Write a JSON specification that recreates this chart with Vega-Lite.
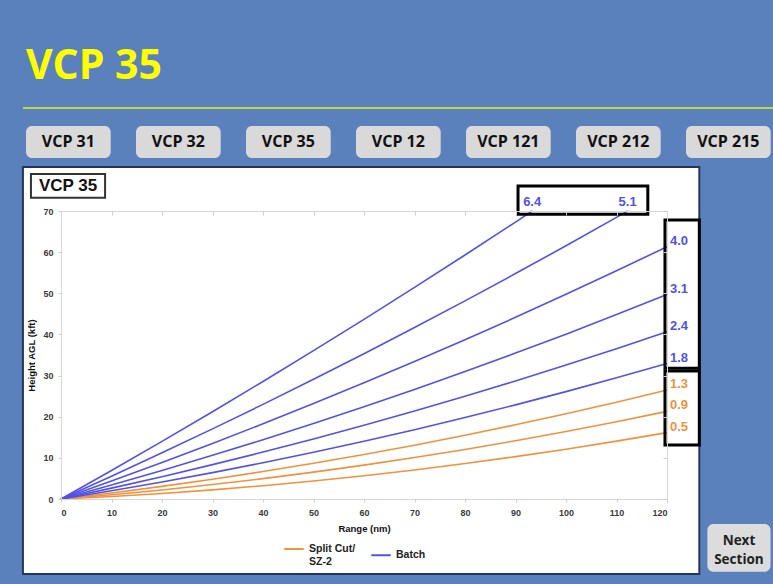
{
  "$schema": "https://vega.github.io/schema/vega-lite/v6.json",
  "background": "#5b81bc",
  "padding": {"left": 21, "top": 46, "right": 20, "bottom": 20},
  "title": {"text": "VCP 35", "anchor": "start", "font": "Open Sans", "fontSize": 41, "fontWeight": "bold", "color": "#ffff00", "baseline": "alphabetic", "offset": -13, "dx": 4},
  "datasets": {
    "lines": [
      {"angle": "0.5", "mode": "Split Cut/SZ-2", "range": 0, "height": 0},
      {"angle": "0.5", "mode": "Split Cut/SZ-2", "range": 10, "height": 0.61},
      {"angle": "0.5", "mode": "Split Cut/SZ-2", "range": 20, "height": 1.35},
      {"angle": "0.5", "mode": "Split Cut/SZ-2", "range": 30, "height": 2.22},
      {"angle": "0.5", "mode": "Split Cut/SZ-2", "range": 40, "height": 3.23},
      {"angle": "0.5", "mode": "Split Cut/SZ-2", "range": 50, "height": 4.37},
      {"angle": "0.5", "mode": "Split Cut/SZ-2", "range": 60, "height": 5.65},
      {"angle": "0.5", "mode": "Split Cut/SZ-2", "range": 70, "height": 7.06},
      {"angle": "0.5", "mode": "Split Cut/SZ-2", "range": 80, "height": 8.61},
      {"angle": "0.5", "mode": "Split Cut/SZ-2", "range": 90, "height": 10.29},
      {"angle": "0.5", "mode": "Split Cut/SZ-2", "range": 100, "height": 12.11},
      {"angle": "0.5", "mode": "Split Cut/SZ-2", "range": 110, "height": 14.06},
      {"angle": "0.5", "mode": "Split Cut/SZ-2", "range": 120, "height": 16.14},
      {"angle": "0.9", "mode": "Split Cut/SZ-2", "range": 0, "height": 0},
      {"angle": "0.9", "mode": "Split Cut/SZ-2", "range": 10, "height": 1.04},
      {"angle": "0.9", "mode": "Split Cut/SZ-2", "range": 20, "height": 2.2},
      {"angle": "0.9", "mode": "Split Cut/SZ-2", "range": 30, "height": 3.51},
      {"angle": "0.9", "mode": "Split Cut/SZ-2", "range": 40, "height": 4.95},
      {"angle": "0.9", "mode": "Split Cut/SZ-2", "range": 50, "height": 6.53},
      {"angle": "0.9", "mode": "Split Cut/SZ-2", "range": 60, "height": 8.23},
      {"angle": "0.9", "mode": "Split Cut/SZ-2", "range": 70, "height": 10.08},
      {"angle": "0.9", "mode": "Split Cut/SZ-2", "range": 80, "height": 12.05},
      {"angle": "0.9", "mode": "Split Cut/SZ-2", "range": 90, "height": 14.16},
      {"angle": "0.9", "mode": "Split Cut/SZ-2", "range": 100, "height": 16.41},
      {"angle": "0.9", "mode": "Split Cut/SZ-2", "range": 110, "height": 18.79},
      {"angle": "0.9", "mode": "Split Cut/SZ-2", "range": 120, "height": 21.3},
      {"angle": "1.3", "mode": "Split Cut/SZ-2", "range": 0, "height": 0},
      {"angle": "1.3", "mode": "Split Cut/SZ-2", "range": 10, "height": 1.46},
      {"angle": "1.3", "mode": "Split Cut/SZ-2", "range": 20, "height": 3.07},
      {"angle": "1.3", "mode": "Split Cut/SZ-2", "range": 30, "height": 4.8},
      {"angle": "1.3", "mode": "Split Cut/SZ-2", "range": 40, "height": 6.67},
      {"angle": "1.3", "mode": "Split Cut/SZ-2", "range": 50, "height": 8.68},
      {"angle": "1.3", "mode": "Split Cut/SZ-2", "range": 60, "height": 10.82},
      {"angle": "1.3", "mode": "Split Cut/SZ-2", "range": 70, "height": 13.08},
      {"angle": "1.3", "mode": "Split Cut/SZ-2", "range": 80, "height": 15.5},
      {"angle": "1.3", "mode": "Split Cut/SZ-2", "range": 90, "height": 18.04},
      {"angle": "1.3", "mode": "Split Cut/SZ-2", "range": 100, "height": 20.72},
      {"angle": "1.3", "mode": "Split Cut/SZ-2", "range": 110, "height": 23.53},
      {"angle": "1.3", "mode": "Split Cut/SZ-2", "range": 120, "height": 26.47},
      {"angle": "1.8", "mode": "Batch", "range": 0, "height": 0},
      {"angle": "1.8", "mode": "Batch", "range": 10, "height": 2.0},
      {"angle": "1.8", "mode": "Batch", "range": 20, "height": 4.14},
      {"angle": "1.8", "mode": "Batch", "range": 30, "height": 6.41},
      {"angle": "1.8", "mode": "Batch", "range": 40, "height": 8.82},
      {"angle": "1.8", "mode": "Batch", "range": 50, "height": 11.37},
      {"angle": "1.8", "mode": "Batch", "range": 60, "height": 14.04},
      {"angle": "1.8", "mode": "Batch", "range": 70, "height": 16.85},
      {"angle": "1.8", "mode": "Batch", "range": 80, "height": 19.8},
      {"angle": "1.8", "mode": "Batch", "range": 90, "height": 22.88},
      {"angle": "1.8", "mode": "Batch", "range": 100, "height": 26.1},
      {"angle": "1.8", "mode": "Batch", "range": 110, "height": 29.45},
      {"angle": "1.8", "mode": "Batch", "range": 120, "height": 32.93},
      {"angle": "2.4", "mode": "Batch", "range": 0, "height": 0},
      {"angle": "2.4", "mode": "Batch", "range": 10, "height": 2.65},
      {"angle": "2.4", "mode": "Batch", "range": 20, "height": 5.43},
      {"angle": "2.4", "mode": "Batch", "range": 30, "height": 8.35},
      {"angle": "2.4", "mode": "Batch", "range": 40, "height": 11.41},
      {"angle": "2.4", "mode": "Batch", "range": 50, "height": 14.6},
      {"angle": "2.4", "mode": "Batch", "range": 60, "height": 17.91},
      {"angle": "2.4", "mode": "Batch", "range": 70, "height": 21.38},
      {"angle": "2.4", "mode": "Batch", "range": 80, "height": 24.96},
      {"angle": "2.4", "mode": "Batch", "range": 90, "height": 28.68},
      {"angle": "2.4", "mode": "Batch", "range": 100, "height": 32.55},
      {"angle": "2.4", "mode": "Batch", "range": 110, "height": 36.54},
      {"angle": "2.4", "mode": "Batch", "range": 120, "height": 40.67},
      {"angle": "3.1", "mode": "Batch", "range": 0, "height": 0},
      {"angle": "3.1", "mode": "Batch", "range": 10, "height": 3.4},
      {"angle": "3.1", "mode": "Batch", "range": 20, "height": 6.94},
      {"angle": "3.1", "mode": "Batch", "range": 30, "height": 10.61},
      {"angle": "3.1", "mode": "Batch", "range": 40, "height": 14.41},
      {"angle": "3.1", "mode": "Batch", "range": 50, "height": 18.36},
      {"angle": "3.1", "mode": "Batch", "range": 60, "height": 22.43},
      {"angle": "3.1", "mode": "Batch", "range": 70, "height": 26.64},
      {"angle": "3.1", "mode": "Batch", "range": 80, "height": 30.99},
      {"angle": "3.1", "mode": "Batch", "range": 90, "height": 35.46},
      {"angle": "3.1", "mode": "Batch", "range": 100, "height": 40.07},
      {"angle": "3.1", "mode": "Batch", "range": 110, "height": 44.82},
      {"angle": "3.1", "mode": "Batch", "range": 120, "height": 49.7},
      {"angle": "4.0", "mode": "Batch", "range": 0, "height": 0},
      {"angle": "4.0", "mode": "Batch", "range": 10, "height": 4.36},
      {"angle": "4.0", "mode": "Batch", "range": 20, "height": 8.87},
      {"angle": "4.0", "mode": "Batch", "range": 30, "height": 13.51},
      {"angle": "4.0", "mode": "Batch", "range": 40, "height": 18.28},
      {"angle": "4.0", "mode": "Batch", "range": 50, "height": 23.19},
      {"angle": "4.0", "mode": "Batch", "range": 60, "height": 28.23},
      {"angle": "4.0", "mode": "Batch", "range": 70, "height": 33.4},
      {"angle": "4.0", "mode": "Batch", "range": 80, "height": 38.72},
      {"angle": "4.0", "mode": "Batch", "range": 90, "height": 44.16},
      {"angle": "4.0", "mode": "Batch", "range": 100, "height": 49.75},
      {"angle": "4.0", "mode": "Batch", "range": 110, "height": 55.46},
      {"angle": "4.0", "mode": "Batch", "range": 120, "height": 61.31},
      {"angle": "5.1", "mode": "Batch", "range": 0, "height": 0},
      {"angle": "5.1", "mode": "Batch", "range": 10, "height": 5.55},
      {"angle": "5.1", "mode": "Batch", "range": 20, "height": 11.24},
      {"angle": "5.1", "mode": "Batch", "range": 30, "height": 17.05},
      {"angle": "5.1", "mode": "Batch", "range": 40, "height": 23.0},
      {"angle": "5.1", "mode": "Batch", "range": 50, "height": 29.09},
      {"angle": "5.1", "mode": "Batch", "range": 60, "height": 35.31},
      {"angle": "5.1", "mode": "Batch", "range": 70, "height": 41.67},
      {"angle": "5.1", "mode": "Batch", "range": 80, "height": 48.16},
      {"angle": "5.1", "mode": "Batch", "range": 90, "height": 54.79},
      {"angle": "5.1", "mode": "Batch", "range": 100, "height": 61.55},
      {"angle": "5.1", "mode": "Batch", "range": 110, "height": 68.44},
      {"angle": "5.1", "mode": "Batch", "range": 112.2, "height": 70},
      {"angle": "6.4", "mode": "Batch", "range": 0, "height": 0},
      {"angle": "6.4", "mode": "Batch", "range": 10, "height": 6.94},
      {"angle": "6.4", "mode": "Batch", "range": 20, "height": 14.02},
      {"angle": "6.4", "mode": "Batch", "range": 30, "height": 21.22},
      {"angle": "6.4", "mode": "Batch", "range": 40, "height": 28.57},
      {"angle": "6.4", "mode": "Batch", "range": 50, "height": 36.05},
      {"angle": "6.4", "mode": "Batch", "range": 60, "height": 43.67},
      {"angle": "6.4", "mode": "Batch", "range": 70, "height": 51.42},
      {"angle": "6.4", "mode": "Batch", "range": 80, "height": 59.3},
      {"angle": "6.4", "mode": "Batch", "range": 90, "height": 67.31},
      {"angle": "6.4", "mode": "Batch", "range": 93.3, "height": 70}
    ],
    "boxes": [
      {"x": 90.5, "x2": 116.2, "y": 76.1, "y2": 69.2},
      {"x": 119.6, "x2": 126.4, "y": 67.8, "y2": 31.8},
      {"x": 119.6, "x2": 126.4, "y": 31.1, "y2": 13.1}
    ],
    "buttons": [
      {"button": "VCP 31"}, {"button": "VCP 32"}, {"button": "VCP 35"}, {"button": "VCP 12"},
      {"button": "VCP 121"}, {"button": "VCP 212"}, {"button": "VCP 215"}
    ],
    "one": [{}]
  },
  "vconcat": [
    {
      "width": 606,
      "height": 32,
      "data": {"name": "buttons"},
      "layer": [
        {
          "mark": {"type": "rect", "fill": "#d9d9d9", "cornerRadius": 6},
          "encoding": {
            "x": {"field": "button", "type": "nominal", "sort": null, "axis": null,
                  "scale": {"type": "band", "range": [-35, 709.7], "paddingInner": 0.23, "paddingOuter": 0}}
          }
        },
        {
          "mark": {"type": "text", "font": "Open Sans", "fontWeight": "bold", "fontSize": 16, "color": "#111111", "baseline": "middle"},
          "encoding": {
            "x": {"field": "button", "type": "nominal", "sort": null, "axis": null, "bandPosition": 0.5,
                  "scale": {"type": "band", "range": [-35, 709.7], "paddingInner": 0.23, "paddingOuter": 0}},
            "text": {"field": "button"}
          }
        },
        {
          "mark": {"type": "rule", "color": "#bfd84a", "strokeWidth": 1.5},
          "encoding": {
            "x": {"datum": 0, "type": "quantitative", "axis": null, "scale": {"domain": [0, 1], "range": [-38, 713]}},
            "x2": {"datum": 1},
            "y": {"datum": 1.5625, "type": "quantitative", "axis": null, "scale": {"domain": [0, 1], "nice": false, "zero": false}}
          }
        }
      ],
      "resolve": {"scale": {"x": "independent"}}
    },
    {
      "width": 606,
      "height": 288,
      "layer": [
        {
          "data": {"name": "one"},
          "mark": {"type": "rect", "fill": "#ffffff", "stroke": "#24365a", "strokeWidth": 2},
          "encoding": {
            "x": {"datum": -7.54, "type": "quantitative", "axis": null},
            "x2": {"datum": 126.4},
            "y": {"datum": 80.7, "type": "quantitative", "axis": null},
            "y2": {"datum": -18.2}
          }
        },
        {
          "data": {"name": "one"},
          "mark": {"type": "rect", "fill": "#ffffff", "stroke": "#333333", "strokeWidth": 2},
          "encoding": {
            "x": {"datum": -5.95, "type": "quantitative", "axis": null},
            "x2": {"datum": 8.73},
            "y": {"datum": 79.0, "type": "quantitative", "axis": null},
            "y2": {"datum": 73.2}
          }
        },
        {
          "data": {"name": "one"},
          "mark": {"type": "text", "font": "Liberation Sans", "fontWeight": "bold", "fontSize": 17, "color": "#111111", "baseline": "middle"},
          "encoding": {
            "x": {"datum": 1.39, "type": "quantitative", "axis": null},
            "y": {"datum": 76.1, "type": "quantitative", "axis": null},
            "text": {"value": "VCP 35"}
          }
        },
        {
          "data": {"name": "one"},
          "mark": {"type": "rect", "fill": "#dcdcdc", "cornerRadius": 6},
          "encoding": {
            "x": {"datum": 128.0, "type": "quantitative", "axis": null},
            "x2": {"datum": 140.5},
            "y": {"datum": -6.08, "type": "quantitative", "axis": null},
            "y2": {"datum": -17.7}
          }
        },
        {
          "data": {"name": "one"},
          "mark": {"type": "text", "font": "Open Sans", "fontWeight": "bold", "fontSize": 13.5, "color": "#222222", "baseline": "middle", "lineBreak": "\n", "lineHeight": 19},
          "encoding": {
            "x": {"datum": 134.25, "type": "quantitative", "axis": null},
            "y": {"datum": -10.2, "type": "quantitative", "axis": null},
            "text": {"value": "Next\nSection"}
          }
        },
        {
          "data": {"name": "lines"},
          "mark": {"type": "line", "strokeWidth": 1.6},
          "encoding": {
            "x": {"field": "range", "type": "quantitative",
                  "scale": {"domain": [0, 120], "nice": false, "zero": false},
                  "axis": {"values": [0, 10, 20, 30, 40, 50, 60, 70, 80, 90, 100, 110, 120], "title": "Range (nm)", "tickSize": 3, "labelPadding": 6, "titlePadding": 6, "zindex": 1}},
            "y": {"field": "height", "type": "quantitative",
                  "scale": {"domain": [0, 70], "nice": false, "zero": false},
                  "axis": {"values": [0, 10, 20, 30, 40, 50, 60, 70], "title": "Height AGL (kft)", "tickSize": 3, "labelPadding": 5, "titlePadding": 6, "zindex": 1}},
            "color": {"field": "mode", "type": "nominal",
                      "scale": {"domain": ["Split Cut/SZ-2", "Batch"], "range": ["#f0913c", "#5252e4"]},
                      "legend": {"title": null, "orient": "none", "legendX": 222, "legendY": 412, "direction": "horizontal", "symbolType": "stroke", "symbolStrokeWidth": 2, "symbolSize": 380,
                                 "labelExpr": "datum.label == 'Split Cut/SZ-2' ? ['Split Cut/', 'SZ-2'] : datum.label",
                                 "labelFont": "Liberation Sans", "labelFontWeight": "bold", "labelFontSize": 10.5, "labelColor": "#222222", "columnPadding": 11}},
            "detail": {"field": "angle"}
          }
        },
        {
          "data": {"name": "lines"},
          "transform": [{"filter": "datum.range == 120"}],
          "mark": {"type": "text", "align": "left", "baseline": "middle", "dx": 3, "dy": -6, "font": "Liberation Sans", "fontWeight": "bold", "fontSize": 13},
          "encoding": {
            "x": {"field": "range", "type": "quantitative", "axis": null},
            "y": {"field": "height", "type": "quantitative", "axis": null},
            "text": {"field": "angle"},
            "color": {"field": "mode", "type": "nominal"}
          }
        },
        {
          "data": {"name": "lines"},
          "transform": [{"filter": "datum.height == 70"}],
          "mark": {"type": "text", "align": "center", "baseline": "middle", "dy": -9, "font": "Liberation Sans", "fontWeight": "bold", "fontSize": 13},
          "encoding": {
            "x": {"field": "range", "type": "quantitative", "axis": null},
            "y": {"field": "height", "type": "quantitative", "axis": null},
            "text": {"field": "angle"},
            "color": {"field": "mode", "type": "nominal"}
          }
        },
        {
          "data": {"name": "boxes"},
          "mark": {"type": "rect", "filled": false, "stroke": "#000000", "strokeWidth": 3},
          "encoding": {
            "x": {"field": "x", "type": "quantitative",
                  "scale": {"domain": [0, 120], "nice": false, "zero": false},
                  "axis": {"orient": "top", "labels": false, "title": null, "tickSize": -4, "zindex": 1, "values": [0, 10, 20, 30, 40, 50, 60, 70, 80, 90, 100, 110, 120]}},
            "x2": {"field": "x2"},
            "y": {"field": "y", "type": "quantitative",
                  "scale": {"domain": [0, 70], "nice": false, "zero": false},
                  "axis": {"orient": "right", "labels": false, "title": null, "tickSize": -4, "zindex": 1, "values": [0, 10, 20, 30, 40, 50, 60, 70]}},
            "y2": {"field": "y2"}
          }
        }
      ],
      "resolve": {"axis": {"x": "independent", "y": "independent"}}
    }
  ],
  "spacing": 7,
  "config": {
    "view": {"stroke": null},
    "axis": {
      "labelFont": "Liberation Sans", "labelFontWeight": "bold", "labelFontSize": 9, "labelColor": "#3a3a3a",
      "titleFont": "Liberation Sans", "titleFontWeight": "bold", "titleFontSize": 9.5, "titleColor": "#111111",
      "domainColor": "#d6d6d6", "tickColor": "#cccccc", "grid": false, "zindex": 1
    }
  }
}
